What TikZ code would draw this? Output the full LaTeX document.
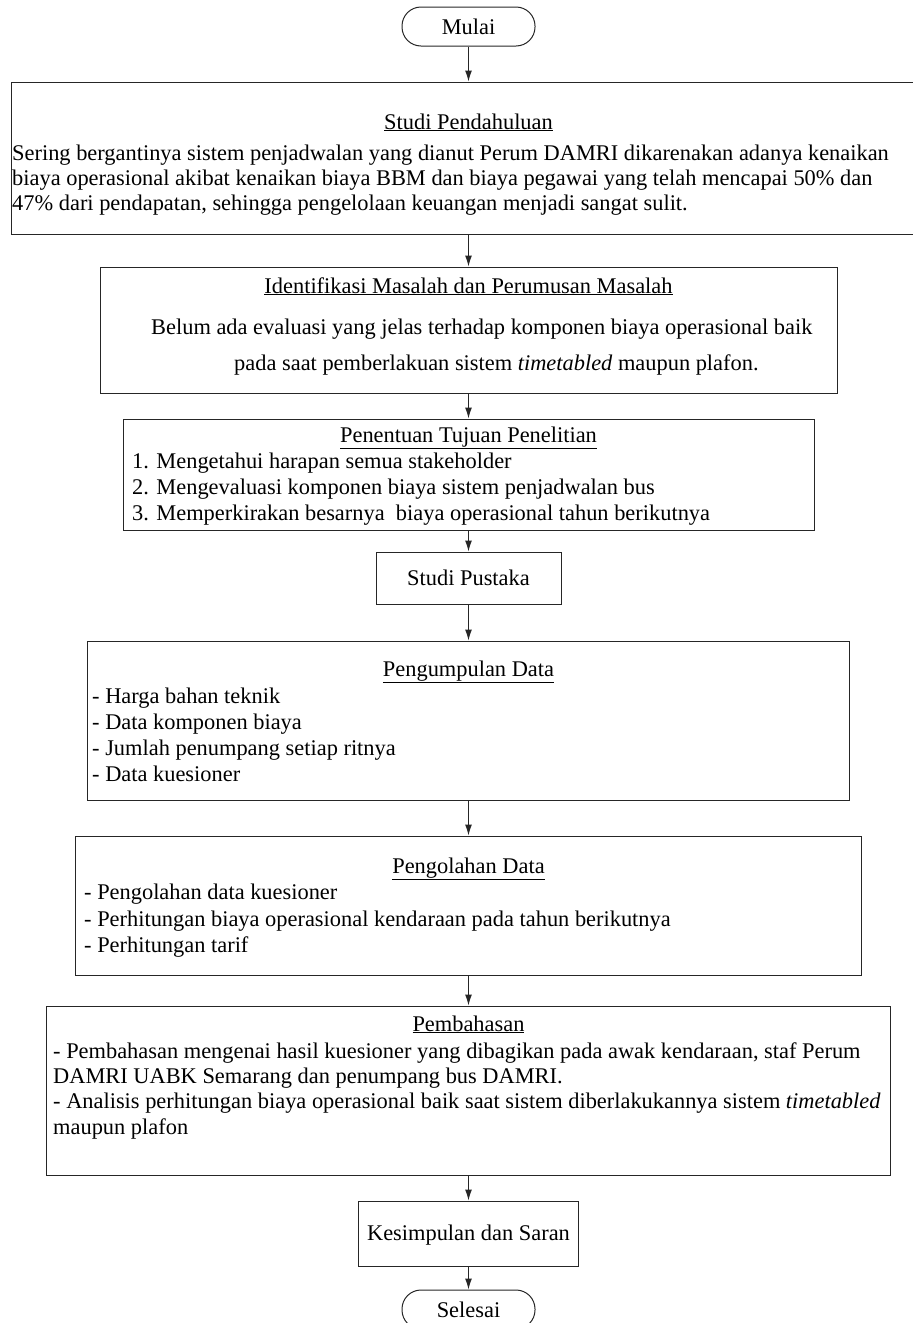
\documentclass[tikz,border=0pt]{standalone}
\usepackage{fontspec}
\setmainfont{Liberation Serif}
\usetikzlibrary{arrows.meta}

\tikzset{
  kotak/.style={draw=black!85, line width=1pt, inner sep=0pt},
  terminal/.style={kotak, rounded corners=19pt, minimum width=133pt, minimum height=39pt},
  teks/.style={inner sep=0pt, anchor=base west, font=\fontsize{22.4}{25.5}\selectfont},
  judul/.style={teks, anchor=base},
  panah/.style={->, line width=1pt, draw=black!85},
}

\begin{document}
\begin{tikzpicture}[x=1pt,y=-1pt,>={Latex[length=11pt,width=7pt]}]
\useasboundingbox (0,0) rectangle (913,1323);
\clip (0,0) rectangle (913,1323);

% kotak-kotak
\node[terminal] (mulai) at (468.5,26.5) {};
\node[kotak, minimum width=915pt, minimum height=152pt] (studi) at (468.5,158) {};
\node[kotak, minimum width=737pt, minimum height=126pt] (identifikasi) at (468.5,330) {};
\node[kotak, minimum width=691pt, minimum height=111pt] (tujuan) at (468.5,474.5) {};
\node[kotak, minimum width=185pt, minimum height=52pt] (pustaka) at (468.5,578) {};
\node[kotak, minimum width=762pt, minimum height=159pt] (kumpul) at (468.5,720.5) {};
\node[kotak, minimum width=786pt, minimum height=139pt] (olah) at (468.5,905.5) {};
\node[kotak, minimum width=844pt, minimum height=169pt] (bahas) at (468.5,1090.5) {};
\node[kotak, minimum width=220pt, minimum height=65pt] (simpulan) at (468.5,1233.5) {};
\node[terminal] (selesai) at (468.5,1309.5) {};

% teks
\node[judul] (mulai-t) at (468.5,34) {Mulai};

\node[judul] (studi-j) at (468.5,129) {\underline{Studi Pendahuluan}};
\node[teks] (studi-1) at (12,160) {Sering bergantinya sistem penjadwalan yang dianut Perum DAMRI dikarenakan adanya kenaikan};
\node[teks] (studi-2) at (12,185) {biaya operasional akibat kenaikan biaya BBM dan biaya pegawai yang telah mencapai 50\% dan};
\node[teks] (studi-3) at (12,210) {47\% dari pendapatan, sehingga pengelolaan keuangan menjadi sangat sulit.};

\node[judul] (identifikasi-j) at (468.5,293) {\underline{Identifikasi Masalah dan Perumusan Masalah}};
\node[teks] (identifikasi-1) at (151,334) {Belum ada evaluasi yang jelas terhadap komponen biaya operasional baik};
\node[teks] (identifikasi-2) at (234,370) {pada saat pemberlakuan sistem \textit{timetabled} maupun plafon.};

\node[judul] (tujuan-j) at (468.5,442) {\underline{Penentuan Tujuan Penelitian}};
\node[teks] (tujuan-1) at (132,468) {1. Mengetahui harapan semua stakeholder};
\node[teks] (tujuan-2) at (132,494) {2. Mengevaluasi komponen biaya sistem penjadwalan bus};
\node[teks] (tujuan-3) at (132,520) {3. Memperkirakan besarnya~ biaya operasional tahun berikutnya};

\node[judul] (pustaka-t) at (468.5,585) {Studi Pustaka};

\node[judul] (kumpul-j) at (468.5,676) {\underline{Pengumpulan Data}};
\node[teks] (kumpul-1) at (92,703) {- Harga bahan teknik};
\node[teks] (kumpul-2) at (92,729) {- Data komponen biaya};
\node[teks] (kumpul-3) at (92,755) {- Jumlah penumpang setiap ritnya};
\node[teks] (kumpul-4) at (92,781) {- Data kuesioner};

\node[judul] (olah-j) at (468.5,873) {\underline{Pengolahan Data}};
\node[teks] (olah-1) at (84,899) {- Pengolahan data kuesioner};
\node[teks] (olah-2) at (84,926) {- Perhitungan biaya operasional kendaraan pada tahun berikutnya};
\node[teks] (olah-3) at (84,952) {- Perhitungan tarif};

\node[judul] (bahas-j) at (468.5,1031) {\underline{Pembahasan}};
\node[teks] (bahas-1) at (53,1058) {- Pembahasan mengenai hasil kuesioner yang dibagikan pada awak kendaraan, staf Perum};
\node[teks] (bahas-2) at (53,1083) {DAMRI UABK Semarang dan penumpang bus DAMRI.};
\node[teks] (bahas-3) at (53,1108) {- Analisis perhitungan biaya operasional baik saat sistem diberlakukannya sistem \textit{timetabled}};
\node[teks] (bahas-4) at (53,1134) {maupun plafon};

\node[judul] (simpulan-t) at (468.5,1240) {Kesimpulan dan Saran};
\node[judul] (selesai-t) at (468.5,1317) {Selesai};

% panah
\draw[panah] (mulai) -- (studi);
\draw[panah] (studi) -- (identifikasi);
\draw[panah] (identifikasi) -- (tujuan);
\draw[panah] (tujuan) -- (pustaka);
\draw[panah] (pustaka) -- (kumpul);
\draw[panah] (kumpul) -- (olah);
\draw[panah] (olah) -- (bahas);
\draw[panah] (bahas) -- (simpulan);
\draw[panah] (simpulan) -- (selesai);

\end{tikzpicture}
\end{document}
